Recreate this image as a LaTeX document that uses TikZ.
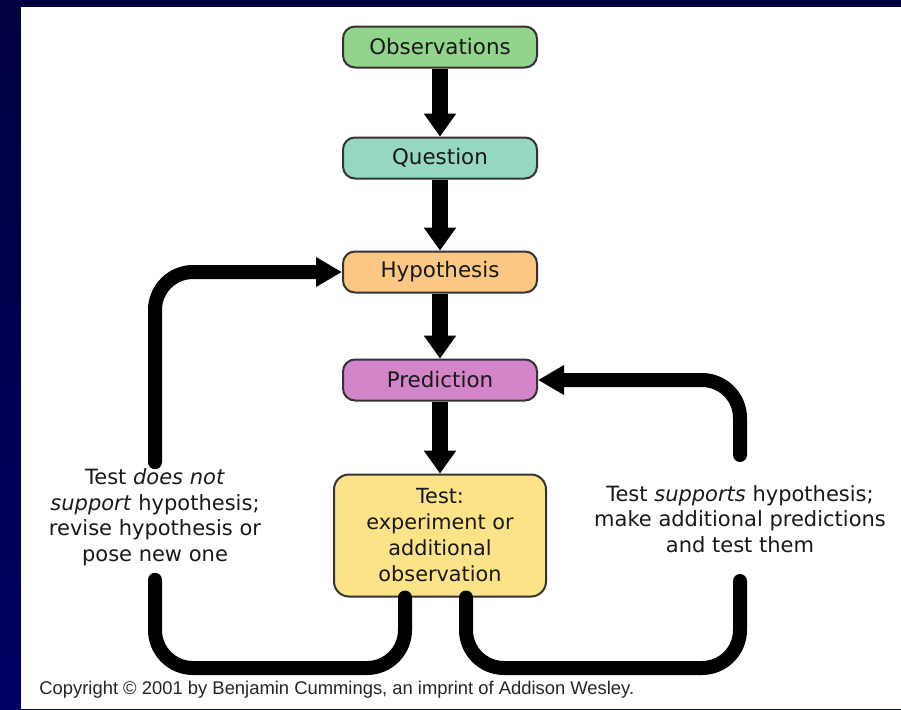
\documentclass[tikz,border=0pt]{standalone}
\usepackage{fontspec}
\setmainfont{DejaVu Sans}
\newfontfamily\notefont{Liberation Sans}
\usepackage{tikz}
\usetikzlibrary{arrows.meta,positioning,calc}

\definecolor{bgtop}{RGB}{0,0,64}
\definecolor{bgbot}{RGB}{0,0,100}
\definecolor{obsgreen}{RGB}{146,212,140}
\definecolor{questeal}{RGB}{150,215,196}
\definecolor{hyporange}{RGB}{250,200,132}
\definecolor{predpink}{RGB}{212,132,200}
\definecolor{testyellow}{RGB}{253,227,136}

\begin{document}
\begin{tikzpicture}[
  x=0.5pt, y=-0.5pt,
  box/.style={draw=black!80,line width=1pt,rounded corners=6pt,align=center,
    minimum width=97pt,minimum height=20.5pt,inner sep=2pt,text=black!90,
    font=\fontsize{10.7}{12}\selectfont},
  testbox/.style={box,rounded corners=7.5pt,minimum width=106pt,minimum height=61pt,
    font=\fontsize{10.4}{13}\selectfont},
  note/.style={align=center,inner sep=3pt,font=\fontsize{10.5}{12.75}\selectfont,text=black!90},
  arr/.style={-{Triangle[width=15.5pt,length=11.5pt]},line width=8pt},
  loop/.style={line width=7pt,rounded corners=19pt,line cap=round},
  looparr/.style={loop,-{Triangle[width=14pt,length=13pt]}}
]
\useasboundingbox (0,0) rectangle (901,709);
% slide background
\shade[top color=bgtop,bottom color=bgbot] (0,0) rectangle (901,709);
\fill[white] (21,7) rectangle (901,709);

% main column
\node[box,fill=obsgreen] (obs) at (440,47) {Observations};
\node[box,fill=questeal,below=34pt of obs] (ques) {Question};
\node[box,fill=hyporange,below=35.5pt of ques] (hyp) {Hypothesis};
\node[box,fill=predpink,below=32.5pt of hyp] (pred) {Prediction};
\node[testbox,fill=testyellow,below=36pt of pred] (test) {Test:\\experiment or\\additional\\observation};

% side notes
\node[note] (nosupport) at (155,517) {Test \textit{does not}\\\textit{support} hypothesis;\\revise hypothesis or\\pose new one};
\node[note] (support) at (740,519) {Test \textit{supports} hypothesis;\\make additional predictions\\and test them};

% copyright line
\node[anchor=west,inner sep=0pt,font=\notefont\fontsize{9.2}{11}\selectfont,text=black!85] (copy) at (39,690)
  {Copyright \textcopyright\ 2001 by Benjamin Cummings, an imprint of Addison Wesley.};

% arrows
\draw[arr] (obs) -- (ques);
\draw[arr] (ques) -- (hyp);
\draw[arr] (hyp) -- (pred);
\draw[arr] (pred) -- (test);

% feedback loops
\coordinate (lowy) at (0,668);
\draw[loop] ([xshift=-17.5pt]test.south) |- (lowy -| nosupport.south) -- ([yshift=-4pt]nosupport.south);
\draw[looparr] (nosupport.north) |- (hyp.west);
\draw[loop] ([xshift=13pt]test.south) |- (lowy -| support.south) -- ([yshift=-11pt]support.south);
\draw[looparr] ([yshift=12pt]support.north) |- (pred.east);
\end{tikzpicture}
\end{document}
